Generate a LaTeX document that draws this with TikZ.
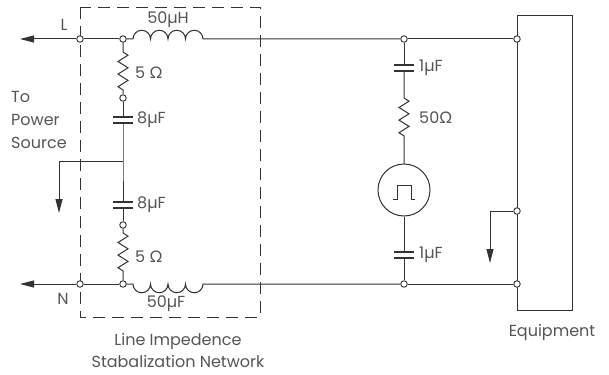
\documentclass[tikz,border=0pt]{standalone}
\usepackage{fontspec}
\setmainfont{Poppins}
\newfontfamily\ohmfont{Lato}
\usetikzlibrary{arrows.meta}
\newcommand{\ohm}{{\ohmfont Ω}}
\definecolor{wirecol}{HTML}{333333}
\definecolor{textcol}{HTML}{555555}
\tikzset{
  wire/.style={draw=wirecol, line width=1pt},
  arr/.style={wire, -{Triangle[length=14pt,width=7pt]}},
  term/.style={circle, draw=wirecol, fill=white, line width=0.9pt, inner sep=0pt, minimum size=6.5pt},
  lbl/.style={text=textcol, font=\fontsize{16}{18}\selectfont, inner sep=0pt},
  dashbox/.style={draw=wirecol, line width=0.9pt, dash pattern=on 12pt off 7pt},
  pics/cap/.style={code={\draw[wire, line width=1.3pt] (-10,-3) -- (10,-3) (-10,3) -- (10,3);}},
}
\begin{document}
\begin{tikzpicture}[x=1pt,y=-1pt]
    \useasboundingbox (0,0) rectangle (609,374);
    % network box and equipment
    \draw[dashbox] (80,7) rectangle (260,317);
    \node[draw=wirecol, line width=1pt, minimum width=55pt, minimum height=294pt, inner sep=0pt] (Eq) at (544.5,163) {};
    % terminals
    \node[term] (Lt) at (80,39) {};
    \node[term] (J1) at (123,39) {};
    \node[term] (T1) at (404,39) {};
    \node[term] (E1) at (517,39) {};
    \node[term] (Nt) at (80,284) {};
    \node[term] (J2) at (123,284) {};
    \node[term] (B1) at (404,284) {};
    \node[term] (E3) at (517,284) {};
    \node[term] (E2) at (517,211) {};
    \node[term] (R1) at (123,98) {};
    \node[term] (R2) at (123,225) {};
    \node[circle, draw=wirecol, line width=1pt, minimum size=52pt, inner sep=0pt] (Src) at (404,190) {};
    \coordinate (Lout) at (20,39);
    \coordinate (Nout) at (20,284);
    \coordinate (M) at (123,161);
    % line L
    \draw[arr] (Lt) -- (Lout);
    \draw[wire] (J1) -- (Lt);
    \draw[wire] (J1) -- (133,39)
        \foreach \i in {1,...,4} { arc[start angle=180, end angle=0, radius=8.75pt] }
        -- (T1);
    \draw[wire] (T1) -- (E1);
    % line N
    \draw[arr] (Nt) -- (Nout);
    \draw[wire] (J2) -- (Nt);
    \draw[wire] (J2) -- (133,284)
        \foreach \i in {1,...,4} { arc[start angle=180, end angle=360, radius=8.75pt] }
        -- (B1);
    \draw[wire] (B1) -- (E3);
    % network branch
    \draw[wire] (J1) -- (123,52) -- ++(5,3.2)
        \foreach \i in {1,2} { -- ++(-10,6.3) -- ++(10,6.3) } -- ++(-10,6.3) -- ++(5,3.2) -- (R1);
    \draw[wire] (R1) -- (123,117);
    \pic at (123,120) {cap};
    \draw[wire] (123,123) -- (M) -- (123,202);
    \pic at (123,205) {cap};
    \draw[wire] (123,208) -- (R2);
    \draw[wire] (R2) -- (123,233) -- ++(5,3.2)
        \foreach \i in {1,2} { -- ++(-10,6.3) -- ++(10,6.3) } -- ++(-10,6.3) -- ++(5,3.2) -- (J2);
    \draw[arr] (M) -- (59,161) -- (59,213);
    % pulse branch
    \draw[wire] (T1) -- (404,65);
    \pic at (404,68) {cap};
    \draw[wire] (404,71) -- (404,98) -- ++(5,3.2)
        \foreach \i in {1,2} { -- ++(-10,6.3) -- ++(10,6.3) } -- ++(-10,6.3) -- ++(5,3.2) -- (Src);
    \draw[wire] (393,199) -- (397,199) -- (397,185) -- (411,185) -- (411,199) -- (415,199);
    \draw[wire] (Src) -- (404,252);
    \pic at (404,255) {cap};
    \draw[wire] (404,258) -- (B1);
    % equipment return
    \draw[arr] (E2) -- (490,211) -- (490,263);
    % labels
    \node[lbl] at (64,25) {L};
    \node[lbl] at (63,299) {N};
    \node[lbl] at (168,20) {50µH};
    \node[lbl] at (166,304) {50µF};
    \node[lbl, anchor=west] at (135,73) {5 \ohm};
    \node[lbl, anchor=west] at (137,120) {8µF};
    \node[lbl, anchor=west] at (137,205) {8µF};
    \node[lbl, anchor=west] at (135,257) {5 \ohm};
    \node[lbl, anchor=west] at (419,68) {1µF};
    \node[lbl, anchor=west] at (419,118) {50\ohm};
    \node[lbl, anchor=west] at (419,255) {1µF};
    \node[lbl, anchor=west, align=left, font=\fontsize{16}{23}\selectfont] at (11,120) {To\\Power\\Source};
    \node[lbl] at (552,332) {Equipment};
    \node[lbl, align=center, font=\fontsize{16}{22}\selectfont] at (178,350) {Line Impedence\\Stabalization Network};
\end{tikzpicture}
\end{document}
